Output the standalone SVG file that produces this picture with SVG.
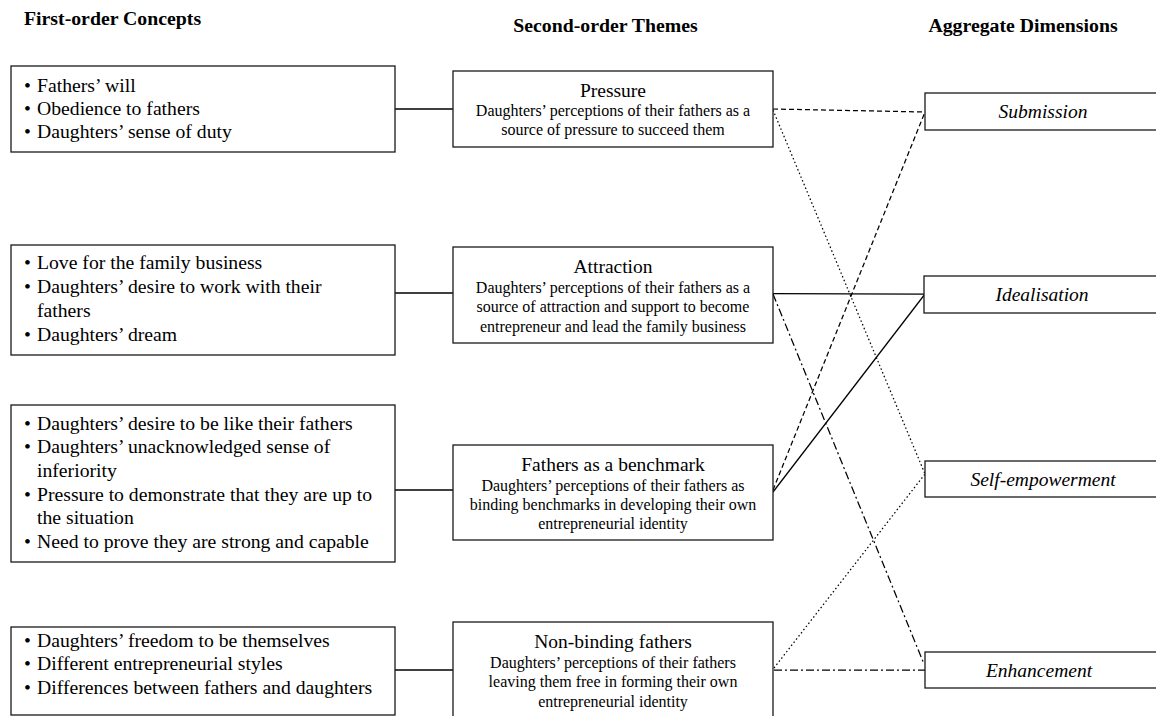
<svg xmlns="http://www.w3.org/2000/svg" width="1156" height="716" viewBox="0 0 1156 716" font-family="'Liberation Serif', 'Times New Roman', Times, 'DejaVu Serif', serif">
<style>
text{font-family:'Liberation Serif','Times New Roman',Times,'DejaVu Serif',serif;fill:#000}
.h{font-size:19.8px;font-weight:bold}
.b{font-size:19.7px}
.t{font-size:19.5px;text-anchor:middle}
.s{font-size:16px;text-anchor:middle}
.a{font-size:19.5px;font-style:italic;text-anchor:middle}
rect{fill:#fff;stroke:#1a1a1a;stroke-width:1.3}
.c line{stroke:#000;stroke-width:1.25;fill:none}
.dash{stroke-dasharray:5 3}
.dot{stroke-dasharray:1.5 2.5}
.dd{stroke-dasharray:8 3 2 3}
</style>
<rect x="-5" y="-5" width="1170" height="730" style="fill:#fff;stroke:none"/>
<g id="headers">
<text class="h" x="24" y="25">First-order Concepts</text>
<text class="h" x="605.5" y="32" text-anchor="middle">Second-order Themes</text>
<text class="h" x="1023" y="32" text-anchor="middle">Aggregate Dimensions</text>
</g>
<g class="c" id="connectors">
<line x1="395" y1="109" x2="453" y2="109" style="stroke-width:1.5"/>
<line x1="395" y1="293" x2="453" y2="293" style="stroke-width:1.5"/>
<line x1="395" y1="490" x2="453" y2="490" style="stroke-width:1.5"/>
<line x1="395" y1="670" x2="453" y2="670" style="stroke-width:1.5"/>
<line class="dash" x1="773" y1="109" x2="925" y2="112"/>
<line class="dot" x1="773" y1="110" x2="925" y2="474"/>
<line x1="773" y1="293.5" x2="925" y2="294"/>
<line class="dd" x1="773" y1="294" x2="924" y2="664"/>
<line class="dash" x1="773" y1="490" x2="925" y2="112"/>
<line x1="773" y1="492" x2="925" y2="294"/>
<line class="dot" x1="774" y1="668" x2="925" y2="474"/>
<line class="dd" x1="774" y1="670" x2="925" y2="670"/>
</g>
<g id="c1">
<rect x="11" y="66" width="384" height="86"/>
<text class="b" x="24" y="92">•</text><text class="b" x="37" y="92">Fathers’ will</text>
<text class="b" x="24" y="115">•</text><text class="b" x="37" y="115">Obedience to fathers</text>
<text class="b" x="24" y="138">•</text><text class="b" x="37" y="138">Daughters’ sense of duty</text>
</g>
<g id="c2">
<rect x="11" y="245" width="384" height="110"/>
<text class="b" x="24" y="269">•</text><text class="b" x="37" y="269">Love for the family business</text>
<text class="b" x="24" y="293">•</text><text class="b" x="37" y="293">Daughters’ desire to work with their</text>
<text class="b" x="37" y="317">fathers</text>
<text class="b" x="24" y="341">•</text><text class="b" x="37" y="341">Daughters’ dream</text>
</g>
<g id="c3">
<rect x="11" y="405" width="384" height="157"/>
<text class="b" x="24" y="430">•</text><text class="b" x="37" y="430">Daughters’ desire to be like their fathers</text>
<text class="b" x="24" y="453">•</text><text class="b" x="37" y="453">Daughters’ unacknowledged sense of</text>
<text class="b" x="37" y="477">inferiority</text>
<text class="b" x="24" y="501">•</text><text class="b" x="37" y="501">Pressure to demonstrate that they are up to</text>
<text class="b" x="37" y="524">the situation</text>
<text class="b" x="24" y="548">•</text><text class="b" x="37" y="548">Need to prove they are strong and capable</text>
</g>
<g id="c4">
<rect x="11" y="627" width="384" height="88"/>
<text class="b" x="24" y="647">•</text><text class="b" x="37" y="647">Daughters’ freedom to be themselves</text>
<text class="b" x="24" y="670">•</text><text class="b" x="37" y="670">Different entrepreneurial styles</text>
<text class="b" x="24" y="694">•</text><text class="b" x="37" y="694">Differences between fathers and daughters</text>
</g>
<g id="t1">
<rect x="453" y="71" width="320" height="76"/>
<text class="t" x="613" y="97">Pressure</text>
<text class="s" x="613" y="116">Daughters’ perceptions of their fathers as a</text>
<text class="s" x="613" y="135">source of pressure to succeed them</text>
</g>
<g id="t2">
<rect x="453" y="247" width="320" height="96"/>
<text class="t" x="613" y="273">Attraction</text>
<text class="s" x="613" y="293">Daughters’ perceptions of their fathers as a</text>
<text class="s" x="613" y="312">source of attraction and support to become</text>
<text class="s" x="613" y="332">entrepreneur and lead the family business</text>
</g>
<g id="t3">
<rect x="453" y="445" width="320" height="95"/>
<text class="t" x="613" y="471">Fathers as a benchmark</text>
<text class="s" x="613" y="491">Daughters’ perceptions of their fathers as</text>
<text class="s" x="613" y="510">binding benchmarks in developing their own</text>
<text class="s" x="613" y="529">entrepreneurial identity</text>
</g>
<g id="t4">
<rect x="453" y="622" width="320" height="100"/>
<text class="t" x="613" y="648">Non-binding fathers</text>
<text class="s" x="613" y="668">Daughters’ perceptions of their fathers</text>
<text class="s" x="613" y="687">leaving them free in forming their own</text>
<text class="s" x="613" y="707">entrepreneurial identity</text>
</g>
<g id="d1">
<rect x="925" y="93" width="240" height="37"/>
<text class="a" x="1043" y="118">Submission</text>
</g>
<g id="d2">
<rect x="924" y="276" width="240" height="37"/>
<text class="a" x="1042" y="301">Idealisation</text>
</g>
<g id="d3">
<rect x="925" y="461" width="240" height="36"/>
<text class="a" x="1043" y="486">Self-empowerment</text>
</g>
<g id="d4">
<rect x="925" y="652" width="240" height="36"/>
<text class="a" x="1039" y="677">Enhancement</text>
</g>
</svg>
